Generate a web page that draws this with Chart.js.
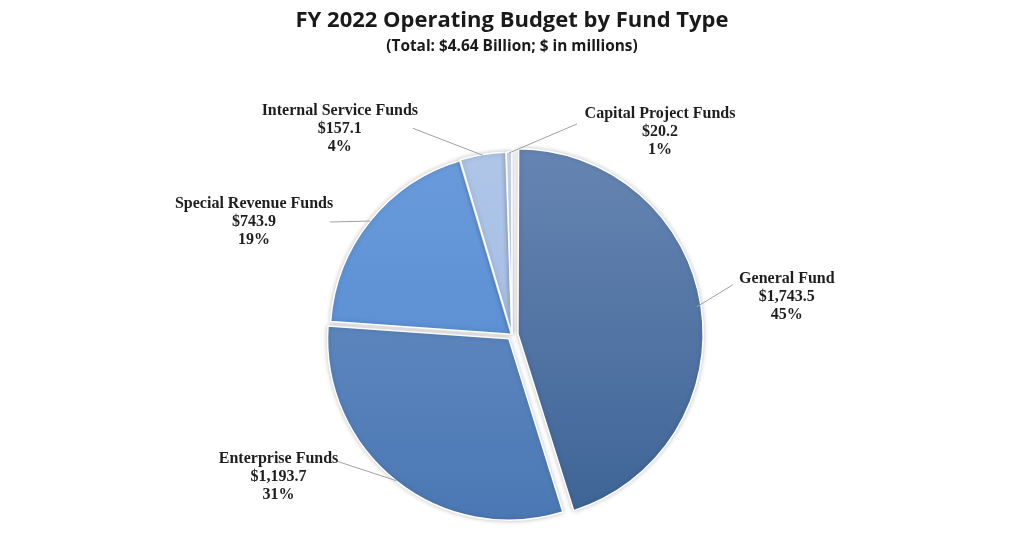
<!DOCTYPE html>
<html>
<head>
<meta charset="utf-8">
<script src="https://cdn.jsdelivr.net/npm/chart.js@4.4.0/dist/chart.umd.min.js"></script>
<style>
  html, body { margin: 0; padding: 0; background: #fff; }
</style>
</head>
<body>
<canvas id="myChart" width="1024" height="536"></canvas>
<script>
// data
const funds = ['General Fund', 'Enterprise Funds', 'Special Revenue Funds', 'Internal Service Funds', 'Capital Project Funds']
const amounts = [1743.5, 1193.7, 743.9, 157.1, 20.2]
const amountLabels = ['$1,743.5', '$1,193.7', '$743.9', '$157.1', '$20.2']
const percentLabels = ['45%', '31%', '19%', '4%', '1%']

// slice gradients (top -> bottom)
const topColors = ['#6886b3', '#6c91c6', '#6b9cdc', '#afc6e8', '#d0ddf1']
const bottomColors = ['#3c6395', '#4977b3', '#4f86cd', '#9db7e0', '#c0d1ec']

// where the leader line ends and the label sits, relative to the slice edge
const leaderEnd = [[36, -22], [-61, -20], [-40, 1], [-70, -27], [68, -29]]
const labelAt = [[90, -28], [-118, -22], [-116, -17], [-143, -44], [151, -39]]

function sliceFill(c) {
    const i = c.dataIndex
    const area = c.chart.chartArea
    if (!area) return topColors[i]
    const g = c.chart.ctx.createLinearGradient(0, area.top, 0, area.bottom)
    g.addColorStop(0, topColors[i])
    g.addColorStop(1, bottomColors[i])
    return g
}

const shadowPlugin = {
    id: 'shadow',
    beforeDatasetsDraw(chart) {
        const ctx = chart.ctx
        ctx.save()
        ctx.shadowColor = 'rgba(0,0,0,0.22)'
        ctx.shadowBlur = 5
    },
    afterDatasetsDraw(chart) {
        chart.ctx.restore()
    }
}

const labelPlugin = {
    id: 'sliceLabels',
    afterDatasetsDraw(chart) {
        const ctx = chart.ctx
        const arcs = chart.getDatasetMeta(0).data
        ctx.save()
        arcs.forEach((arc, i) => {
            const p = arc.getProps(['x', 'y', 'startAngle', 'endAngle', 'outerRadius'], true)
            const off = (arc.options.offset || 0) / 4
            const mid = (p.startAngle + p.endAngle) / 2
            const ex = p.x + Math.cos(mid) * (p.outerRadius + off)
            const ey = p.y + Math.sin(mid) * (p.outerRadius + off)

            ctx.strokeStyle = '#a0a0a0'
            ctx.lineWidth = 1
            ctx.beginPath()
            ctx.moveTo(ex, ey)
            ctx.lineTo(ex + leaderEnd[i][0], ey + leaderEnd[i][1])
            ctx.stroke()

            const tx = ex + labelAt[i][0]
            const ty = ey + labelAt[i][1]
            ctx.fillStyle = '#1e1e1e'
            ctx.font = 'bold 16px "Liberation Serif", serif'
            ctx.textAlign = 'center'
            ctx.textBaseline = 'middle'
            ctx.fillText(funds[i], tx, ty)
            ctx.fillText(amountLabels[i], tx, ty + 18)
            ctx.fillText(percentLabels[i], tx, ty + 36)
        })
        ctx.restore()
    }
}

const ctx = document.getElementById('myChart').getContext('2d')
const myChart = new Chart(ctx, {
    type: 'pie',
    data: {
        labels: funds,
        datasets: [{
            data: amounts,
            backgroundColor: sliceFill,
            borderColor: '#ffffff',
            borderWidth: 1.5,
            offset: [24, 20, 4, 4, 4],
            radius: 181
        }]
    },
    options: {
        responsive: false,
        animation: false,
        devicePixelRatio: 1,
        layout: {
            padding: 0
        },
        plugins: {
            legend: { display: false },
            tooltip: { enabled: false },
            title: {
                display: true,
                text: 'FY 2022 Operating Budget by Fund Type',
                color: '#1a1a1a',
                font: { family: 'Open Sans', size: 22, weight: 'bold' },
                padding: { top: 8, bottom: 2 }
            },
            subtitle: {
                display: true,
                text: '(Total: $4.64 Billion; $ in millions)',
                color: '#1a1a1a',
                font: { family: 'Open Sans', size: 15.4, weight: 'bold' },
                padding: { top: 1, bottom: 78 }
            }
        }
    },
    plugins: [shadowPlugin, labelPlugin]
})
</script>
</body>
</html>
